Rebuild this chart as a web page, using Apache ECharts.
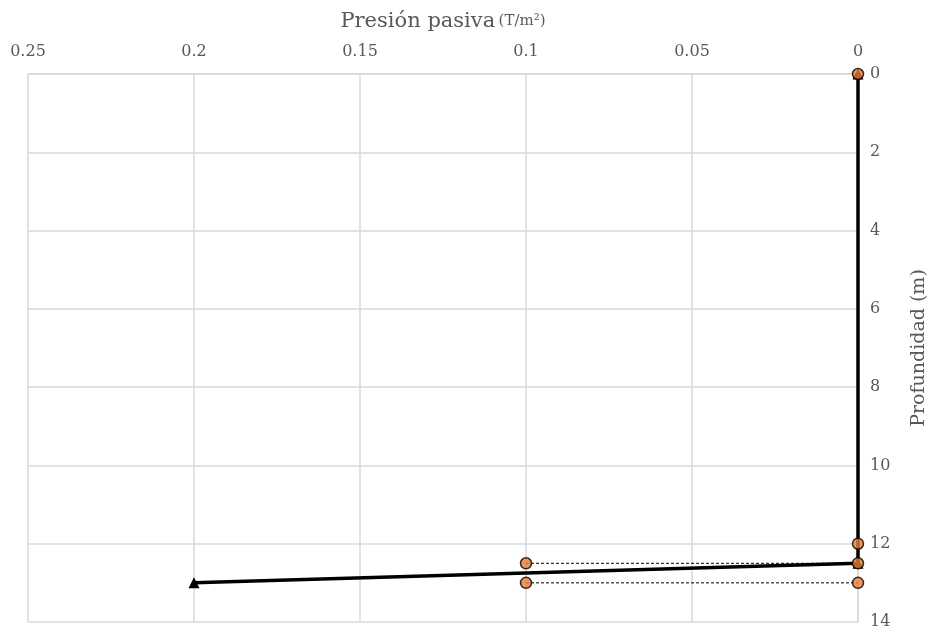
<!DOCTYPE html>
<html>
<head>
<meta charset="utf-8">
<script src="https://cdn.jsdelivr.net/npm/echarts@6/dist/echarts.min.js"></script>
<style>
  html, body { margin: 0; padding: 0; background: #fff; }
  #myChart { width: 932px; height: 635px; }
</style>
</head>
<body>
<div id="myChart"></div>
<script>
// presión pasiva (T/m2) vs profundidad (m)
var xTicks = [0, 0.05, 0.1, 0.15, 0.2, 0.25];
var yTicks = [0, 2, 4, 6, 8, 10, 12, 14];

// línea principal (negra, triángulos)
var presionLinea = [0, 0, 0.2];
var profLinea = [0, 12.5, 13];

// puntos naranjas
var presionPuntos = [0, 0, 0.1, 0, 0.1, 0];
var profPuntos = [0, 12, 12.5, 12.5, 13, 13];

// líneas punteadas
var presionDash1 = [0.1, 0];
var profDash1 = [12.5, 12.5];
var presionDash2 = [0.1, 0];
var profDash2 = [13, 13];

var myChart;
var fontFam = '"DejaVu Serif", "Liberation Serif", serif';
var gris = '#595959';

function pares(xs, ys) {
    var out = [];
    for (var i = 0; i < xs.length; i++) {
        out.push([xs[i], ys[i]]);
    }
    return out;
}

myChart = echarts.init(document.getElementById('myChart'));

var option = {
    animation: false,
    grid: {
        left: 28,
        right: 74,
        top: 74,
        bottom: 13,
        containLabel: false,
        outerBoundsMode: 'none'
    },
    xAxis: {
        type: 'value',
        position: 'top',
        inverse: true,
        min: 0,
        max: 0.25,
        interval: 0.05,
        name: '{a|Presión pasiva} {b|(T/m²)}',
        nameLocation: 'middle',
        nameGap: 42,
        nameTextStyle: {
            rich: {
                a: { fontFamily: fontFam, fontSize: 21, color: gris },
                b: { fontFamily: fontFam, fontSize: 15, color: gris }
            }
        },
        axisLine: { show: true, lineStyle: { color: '#d9d9d9', width: 1.5 } },
        axisTick: { show: false },
        axisLabel: {
            margin: 14,
            fontFamily: fontFam,
            fontSize: 16,
            color: gris,
            formatter: function (v) {
                return xTicks.indexOf(Math.round(v * 100) / 100) > -1 ? String(Math.round(v * 100) / 100) : '';
            }
        },
        splitLine: { show: true, lineStyle: { color: '#d9d9d9', width: 1.5 } }
    },
    yAxis: {
        type: 'value',
        position: 'right',
        inverse: true,
        min: 0,
        max: 14,
        interval: 2,
        name: 'Profundidad (m)',
        nameLocation: 'middle',
        nameGap: 52,
        nameRotate: 90,
        nameTextStyle: { fontFamily: fontFam, fontSize: 19, color: gris },
        axisLine: { show: true, lineStyle: { color: '#d9d9d9', width: 1.5 } },
        axisTick: { show: false },
        axisLabel: {
            margin: 12,
            fontFamily: fontFam,
            fontSize: 16,
            color: gris,
            formatter: function (v) {
                return yTicks.indexOf(v) > -1 ? String(v) : '';
            }
        },
        splitLine: { show: true, lineStyle: { color: '#d9d9d9', width: 1.5 } }
    },
    series: [
        {
            name: 'Presión',
            type: 'line',
            data: pares(presionLinea, profLinea),
            symbol: 'triangle',
            symbolSize: 11,
            itemStyle: { color: '#000' },
            lineStyle: { color: '#000', width: 3.5 },
            z: 2
        },
        {
            name: 'dash1',
            type: 'line',
            data: pares(presionDash1, profDash1),
            symbol: 'none',
            lineStyle: { color: '#000', width: 1, type: [3, 2] },
            z: 3
        },
        {
            name: 'dash2',
            type: 'line',
            data: pares(presionDash2, profDash2),
            symbol: 'none',
            lineStyle: { color: '#000', width: 1, type: [3, 2] },
            z: 3
        },
        {
            name: 'Puntos',
            type: 'scatter',
            data: pares(presionPuntos, profPuntos),
            symbol: 'circle',
            symbolSize: 11,
            itemStyle: { color: '#ed7d31', borderColor: '#000', borderWidth: 1.5 },
            z: 4
        }
    ]
};

myChart.setOption(option);
</script>
</body>
</html>
